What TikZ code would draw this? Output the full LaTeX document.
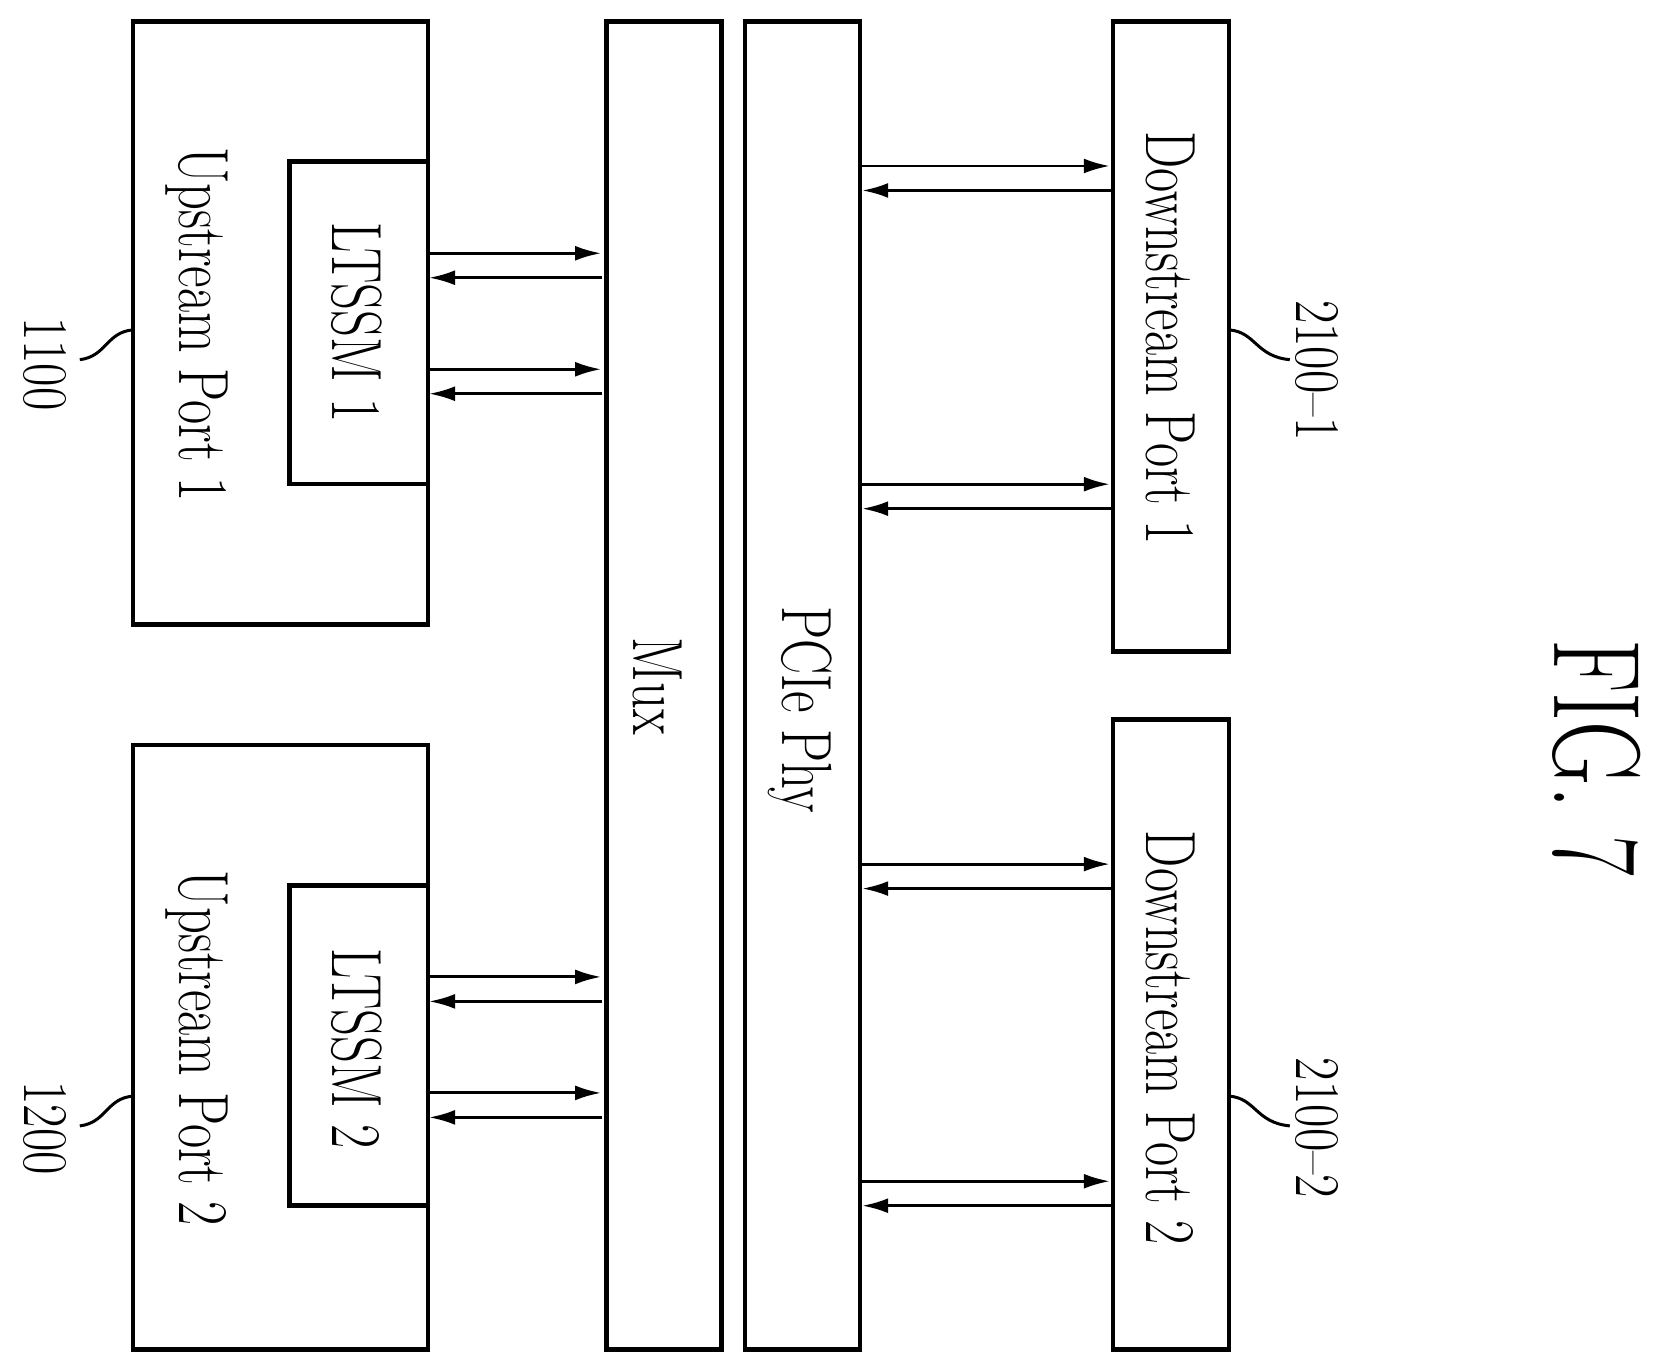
\documentclass[tikz,border=0pt]{standalone}
\usetikzlibrary{arrows.meta}
\newcommand{\cnd}[2][0.74]{\scalebox{#1}[1]{#2}}
\begin{document}
\begin{tikzpicture}[x=0.01cm,y=-0.01cm,
  box/.style={draw,line width=1.2pt},
  lab/.style={rotate=-90,font=\fontsize{19}{19}\selectfont},
  num/.style={rotate=-90,font=\fontsize{17}{17}\selectfont},
  ar/.style={-{Latex[length=7pt,width=4pt]},line width=0.8pt},
  lead/.style={line width=0.8pt}]
\useasboundingbox (0,0) rectangle (1558,1280);
\draw[box] (125,20) rectangle (402,587); \node[lab] (u1) at (185,305) {\cnd{Upstream Port 1}};
\draw[box] (272,152) rectangle (402,455); \node[lab] (l1) at (335,303) {\cnd{LTSSM 1}};
\draw[box] (125,700) rectangle (402,1268); \node[lab] (u2) at (185,985) {\cnd{Upstream Port 2}};
\draw[box] (272,832) rectangle (402,1133); \node[lab] (l2) at (335,985) {\cnd{LTSSM 2}};
\draw[box] (570,20) rectangle (678,1268); \node[lab] (mux) at (618,645) {\cnd{Mux}};
\draw[box] (700,20) rectangle (808,1268); \node[lab] (phy) at (752,667) {\cnd{PCIe Phy}};
\draw[box] (1046,20) rectangle (1155,612); \node[lab] (d1) at (1100,318) {\cnd{Downstream Port 1}};
\draw[box] (1046,676) rectangle (1155,1268); \node[lab] (d2) at (1100,975) {\cnd{Downstream Port 2}};
\foreach \y in {238,347,918,1027}{
  \draw[ar] (402,\y) -- (565,\y);
  \draw[ar] (566,\y+23) -- (403,\y+23);}
\foreach \y in {156,455,812,1110}{
  \draw[ar] (809,\y) -- (1043,\y);
  \draw[ar] (1045,\y+23) -- (810,\y+23);}
\node[num] (n1) at (42,342) {\cnd[0.8]{1100}};
\draw[lead] (125,310) .. controls (100,312) and (100,335) .. (75,338);
\node[num] (n2) at (42,1060) {\cnd[0.8]{1200}};
\draw[lead] (125,1030) .. controls (100,1032) and (100,1055) .. (75,1058);
\node[num] (n3) at (1238,348) {\cnd[0.8]{2100--1}};
\draw[lead] (1155,310) .. controls (1180,312) and (1180,335) .. (1212,338);
\node[num] (n4) at (1238,1060) {\cnd[0.8]{2100--2}};
\draw[lead] (1155,1030) .. controls (1180,1032) and (1180,1055) .. (1212,1058);
\node[rotate=-90,font=\fontsize{33}{33}\selectfont] (fig) at (1500,712) {\cnd[0.72]{FIG. 7}};
\end{tikzpicture}
\end{document}
